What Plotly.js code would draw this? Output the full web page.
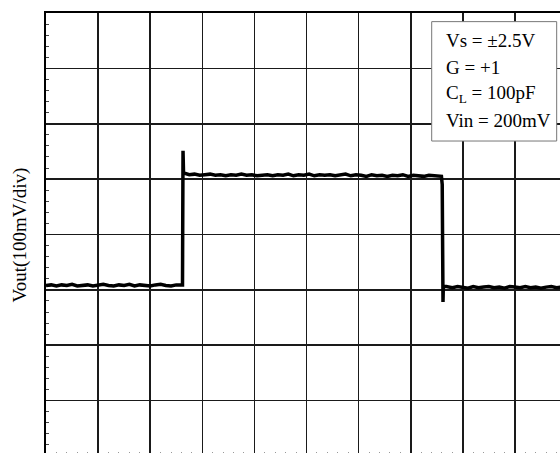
<!DOCTYPE html>
<html>
<head>
<meta charset="utf-8">
<script src="https://cdn.plot.ly/plotly-3.0.1.min.js"></script>
<style>
html,body{margin:0;padding:0;width:560px;height:453px;overflow:hidden;background:#fff;}
#chart{width:600px;height:480px;}
</style>
</head>
<body>
<div id="chart"></div>
<script>
// time in divisions, output voltage in divisions (100 mV/div)
const timeDiv = [
  0.00,0.10,0.20,0.30,0.40,0.50,0.60,0.70,0.80,0.90,1.00,1.10,1.20,1.30,1.40,1.50,1.60,1.70,1.80,1.90,2.00,2.10,2.20,2.30,2.40,2.50,2.60,
  2.62,2.63,2.64,2.68,2.75,
  2.85,2.95,3.05,3.15,3.25,3.35,3.45,3.55,3.65,3.75,3.85,3.95,4.05,4.15,4.25,4.35,4.45,4.55,4.65,4.75,4.85,4.95,5.05,5.15,5.25,5.35,5.45,5.55,5.65,5.75,5.85,5.95,6.05,6.15,6.25,6.35,6.45,6.55,6.65,6.75,6.85,6.95,7.05,7.15,7.25,7.35,7.45,7.55,7.59,
  7.605,7.61,7.615,7.62,7.625,7.64,7.70,
  7.80,7.90,8.00,8.10,8.20,8.30,8.40,8.50,8.60,8.70,8.80,8.90,9.00,9.10,9.20,9.30,9.40,9.50,9.60,9.70,9.80,9.90,10.00
];
const voutDiv = [
  3.08,3.09,3.07,3.09,3.08,3.10,3.07,3.08,3.09,3.07,3.08,3.10,3.08,3.07,3.09,3.08,3.10,3.07,3.09,3.08,3.07,3.09,3.10,3.08,3.07,3.09,3.10,
  3.09,5.51,5.10,5.10,5.08,
  5.09,5.07,5.08,5.09,5.07,5.08,5.06,5.08,5.07,5.09,5.07,5.08,5.06,5.07,5.08,5.06,5.08,5.07,5.09,5.06,5.08,5.07,5.09,5.06,5.08,5.07,5.08,5.06,5.07,5.09,5.06,5.08,5.07,5.05,5.08,5.06,5.07,5.05,5.07,5.06,5.08,5.05,5.07,5.06,5.05,5.07,5.06,5.06,5.05,
  4.90,3.50,3.06,2.78,3.02,3.07,3.06,
  3.04,3.06,3.05,3.03,3.06,3.04,3.05,3.06,3.04,3.05,3.03,3.06,3.05,3.04,3.06,3.04,3.05,3.03,3.05,3.06,3.04,3.05,3.04
];
const legendLines = ["Vs = ±2.5V", "G = +1", "C<sub>L</sub> = 100pF", "Vin = 200mV"];
const yTitle = "Vout(100mV/div)";

const serif = "Liberation Serif, Times New Roman, serif";
const legendX = 7.64;
const legendY = [7.51, 7.02, 6.54, 6.05];

const annotations = legendLines.map((t, i) => ({
  text: t, xref: 'x', yref: 'y', x: legendX, y: legendY[i],
  xanchor: 'left', yanchor: 'middle', showarrow: false,
  font: {family: serif, size: 19, color: '#000'}
}));
annotations.push({
  text: yTitle, xref: 'paper', yref: 'paper', x: -0.05, y: 0.5,
  xanchor: 'center', yanchor: 'middle', showarrow: false, textangle: -90,
  font: {family: serif, size: 19, color: '#000'}
});

const axisBase = {
  showgrid: true, gridcolor: '#1a1a1a', gridwidth: 1.6,
  ticks: '', showticklabels: false, zeroline: false,
  showline: true, linecolor: '#000', linewidth: 2.2, mirror: true,
  dtick: 1, tick0: 0
};

Plotly.newPlot('chart', [{
  x: timeDiv, y: voutDiv, type: 'scatter', mode: 'lines',
  line: {color: '#000', width: 3.5}, hoverinfo: 'skip'
}], {
  width: 600, height: 480,
  margin: {l: 46, r: 33, t: 13, b: 24},
  paper_bgcolor: '#fff', plot_bgcolor: '#fff',
  showlegend: false,
  xaxis: Object.assign({}, axisBase, {range: [0, 10],
    minor: {dtick: 0.2, tick0: 0, ticks: 'inside', ticklen: 4, tickcolor: '#999', tickwidth: 1, showgrid: false}}),
  yaxis: Object.assign({}, axisBase, {range: [0, 8],
    minor: {dtick: 0.2, tick0: 0, ticks: 'inside', ticklen: 3, tickcolor: '#444', tickwidth: 1, showgrid: false}}),
  shapes: [{
    type: 'rect', xref: 'x', yref: 'y', x0: 7.403, x1: 9.802, y0: 5.688, y1: 7.844,
    fillcolor: '#fff', line: {color: '#777', width: 1}, layer: 'above'
  }],
  annotations: annotations
}, {staticPlot: true});
</script>
</body>
</html>
